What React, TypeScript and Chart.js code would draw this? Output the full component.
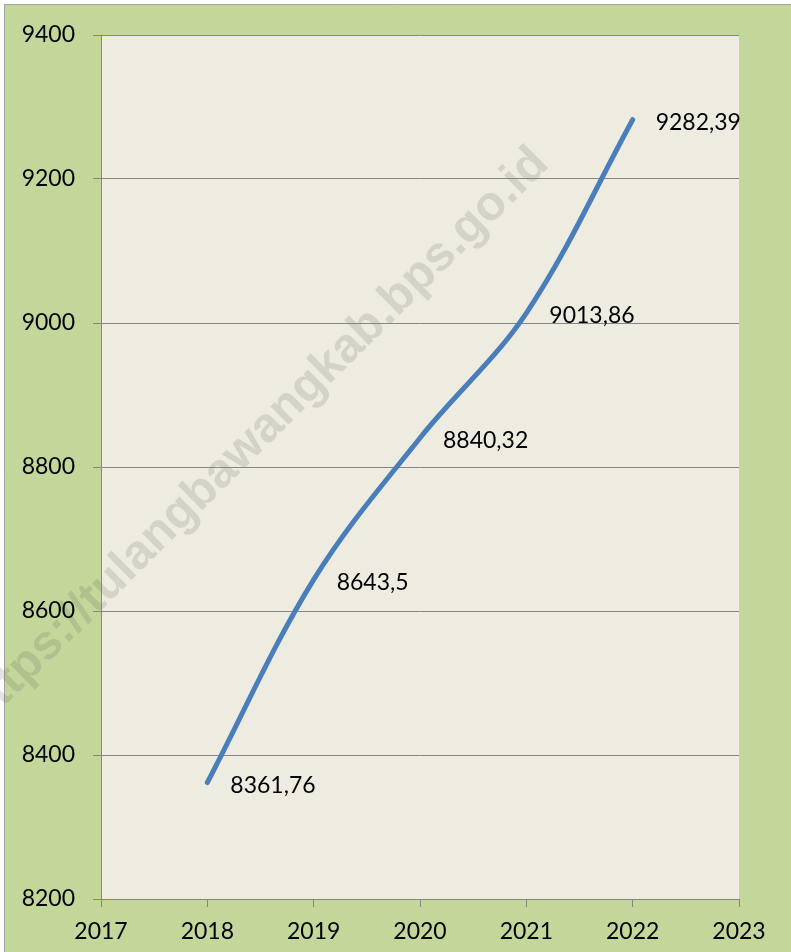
import React, { useEffect, useRef } from "react";
import { Chart, registerables } from "chart.js";

Chart.register(...registerables);

const years = [2018, 2019, 2020, 2021, 2022];
const values = [8361.76, 8643.5, 8840.32, 9013.86, 9282.39];
const valueLabels = ["8361,76", "8643,5", "8840,32", "9013,86", "9282,39"];
const xMin = 2017;
const xMax = 2023;
const yMin = 8200;
const yMax = 9400;
const yStep = 200;
const watermark = "https://tulangbawangkab.bps.go.id";

const FONT = "Lato, 'Open Sans', sans-serif";
const FONT_SIZE = 23;
const GREEN = "#C4D79B";
const BEIGE = "#EEECE1";
const GRID = "#868686";
const LINE = "#4A7EBB";

export default function App() {
  const ref = useRef<HTMLCanvasElement | null>(null);

  useEffect(() => {
    const canvas = ref.current;
    if (!canvas) return;

    const bgPlugin = {
      id: "bg",
      beforeDraw(chart: any) {
        const { ctx, width, height, chartArea } = chart;
        ctx.save();
        ctx.fillStyle = "#ffffff";
        ctx.fillRect(0, 0, width, height);
        ctx.fillStyle = GREEN;
        ctx.fillRect(5, 5, width - 5, height - 5);
        ctx.strokeStyle = "#A0A0A0";
        ctx.lineWidth = 1;
        ctx.beginPath();
        ctx.moveTo(4.5, height);
        ctx.lineTo(4.5, 4.5);
        ctx.lineTo(width, 4.5);
        ctx.stroke();
        ctx.fillStyle = BEIGE;
        ctx.fillRect(
          chartArea.left,
          chartArea.top,
          chartArea.right - chartArea.left,
          chartArea.bottom - chartArea.top
        );
        ctx.restore();

        // watermark (behind grid, ticks and line)
        ctx.save();
        ctx.translate(266, 447);
        ctx.rotate((-44.7 * Math.PI) / 180);
        ctx.font = "bold 48.5px 'Liberation Sans', Arial, sans-serif";
        ctx.textAlign = "center";
        ctx.textBaseline = "alphabetic";
        ctx.fillStyle = "rgba(78,78,72,0.16)";
        ctx.fillText(watermark, 0, 0);
        ctx.restore();
      },
      afterDatasetsDraw(chart: any) {
        const { ctx } = chart;
        const meta = chart.getDatasetMeta(0);
        ctx.save();
        ctx.font = `${FONT_SIZE}px ${FONT}`;
        ctx.fillStyle = "#000000";
        ctx.textAlign = "left";
        ctx.textBaseline = "middle";
        meta.data.forEach((pt: any, i: number) => {
          ctx.fillText(valueLabels[i], pt.x + 23, pt.y + 3);
        });
        ctx.restore();
      },
    };

    const chart = new Chart(canvas, {
      type: "line",
      data: {
        datasets: [
          {
            data: years.map((y, i) => ({ x: y, y: values[i] })),
            borderColor: LINE,
            borderWidth: 5,
            borderCapStyle: "round",
            tension: 0.35,
            pointRadius: 0,
            fill: false,
          },
        ],
      },
      options: {
        animation: false,
        responsive: false,
        devicePixelRatio: 1,
        layout: { padding: { top: 35, right: 52, left: 0, bottom: 0 } },
        plugins: {
          legend: { display: false },
          tooltip: { enabled: false },
        },
        scales: {
          x: {
            type: "linear",
            min: xMin,
            max: xMax,
            afterFit(scale: any) {
              scale.height = 53;
            },
            ticks: {
              stepSize: 1,
              color: "#000000",
              padding: 11,
              font: { family: FONT, size: FONT_SIZE },
              callback: (v: any) => String(v),
              maxRotation: 0,
              autoSkip: false,
            },
            grid: {
              drawOnChartArea: false,
              drawTicks: true,
              tickLength: 8,
              color: GRID,
              tickColor: GRID,
            },
            border: { display: true, color: GRID, width: 1 },
          },
          y: {
            type: "linear",
            min: yMin,
            max: yMax,
            afterFit(scale: any) {
              scale.width = 101;
            },
            ticks: {
              stepSize: yStep,
              color: "#000000",
              padding: 18,
              font: { family: FONT, size: FONT_SIZE },
              callback: (v: any) => String(v),
            },
            grid: {
              drawTicks: true,
              tickLength: 8,
              color: GRID,
              tickColor: GRID,
              lineWidth: 1,
            },
            border: { display: true, color: GRID, width: 1 },
          },
        },
      },
      plugins: [bgPlugin],
    });

    return () => chart.destroy();
  }, []);

  return (
    <div style={{ position: "fixed", left: 0, top: 0, width: 791, height: 952 }}>
      <canvas ref={ref} width={791} height={952} style={{ width: 791, height: 952, display: "block" }} />
    </div>
  );
}
